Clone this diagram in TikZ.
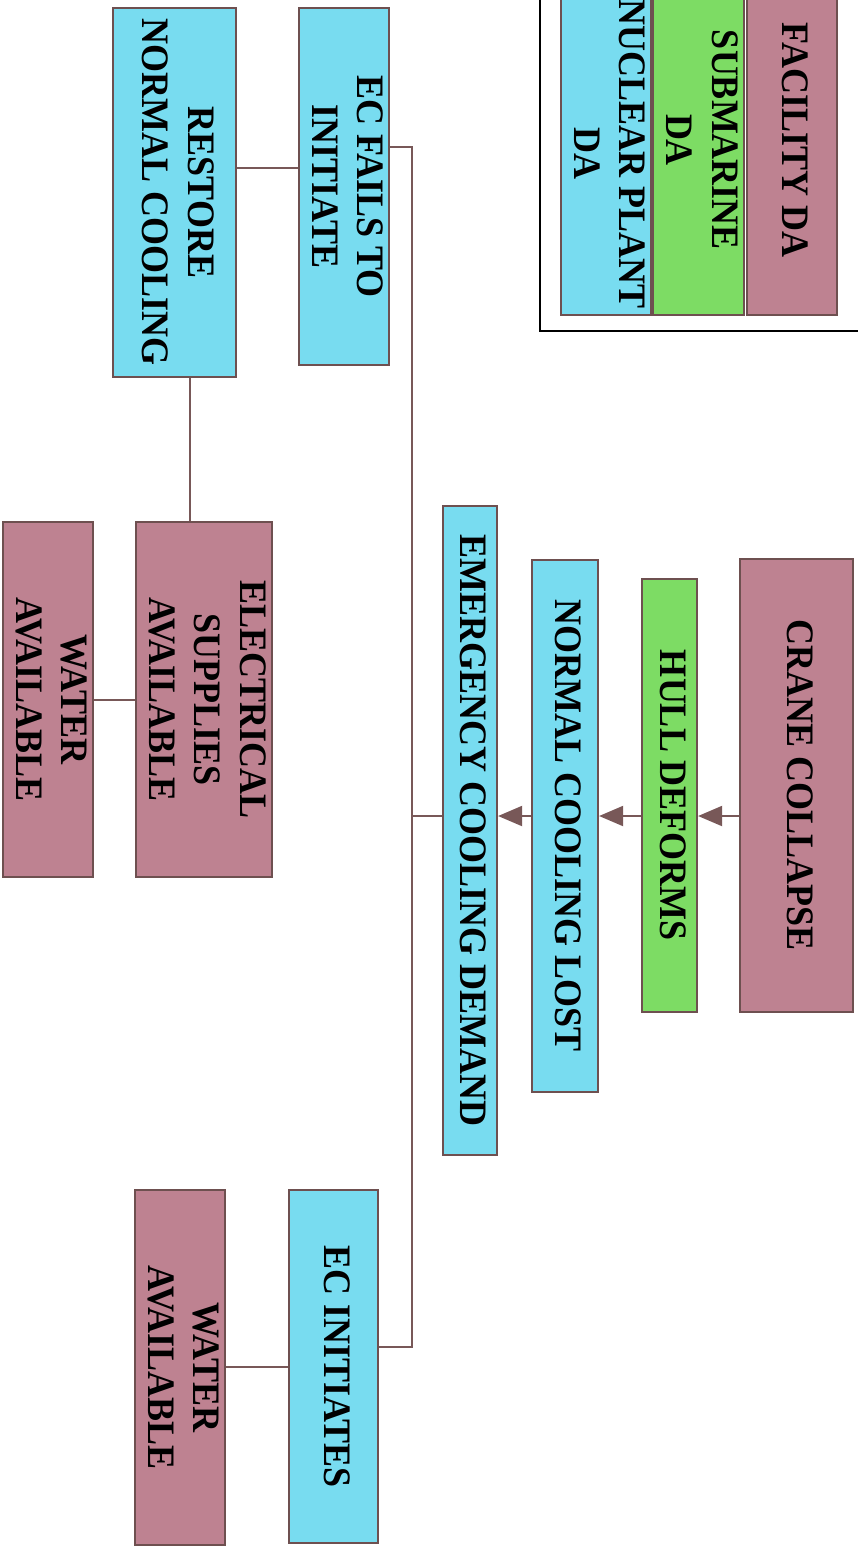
\documentclass[tikz,border=0pt]{standalone}
\usepackage{fontspec}
\usepackage{graphicx}
\setmainfont{Liberation Serif}
\usetikzlibrary{arrows.meta}
\definecolor{mauve}{RGB}{190,130,145}
\definecolor{leaf}{RGB}{125,220,100}
\definecolor{aqua}{RGB}{120,220,240}
\definecolor{edge}{RGB}{110,80,80}
\definecolor{wire}{RGB}{120,88,88}
\newcommand{\vt}[1]{\rotatebox{-90}{\scalebox{1}[1.08]{\begin{tabular}{@{}c@{}}#1\end{tabular}}}}
\tikzset{
  blk/.style={draw=edge, line width=2.2pt, inner sep=0pt, font=\fontsize{36}{42}\selectfont\bfseries},
  fac/.style={blk, fill=mauve},
  sub/.style={blk, fill=leaf},
  npl/.style={blk, fill=aqua},
  wireline/.style={draw=wire, line width=2pt},
  arr/.style={wireline, -{Triangle[length=24pt,width=20pt]}, wire, fill=wire},
}
\begin{document}
\begin{tikzpicture}[x=1pt,y=-1pt]
\useasboundingbox (0,0) rectangle (858,1549);
\fill[white] (0,0) rectangle (858,1549);
% legend
\draw[line width=2.8pt] (540,-20) -- (540,331) -- (880,331);
\node[fac, minimum width=90pt, minimum height=350pt] (lfac) at (792,140) {\vt{FACILITY DA}};
\node[sub, minimum width=89pt, minimum height=350pt] (lsub) at (698.5,140) {\vt{SUBMARINE\\DA}};
\node[npl, minimum width=88pt, minimum height=322pt] (lnpl) at (606,154) {\vt{NUCLEAR PLANT\\DA}};
% main chain
\node[fac, minimum width=113pt, minimum height=453pt] (crane) at (796.5,785.5) {\vt{CRANE COLLAPSE}};
\node[sub, minimum width=55pt, minimum height=433pt] (hull) at (669.5,795.5) {\vt{HULL DEFORMS}};
\node[npl, minimum width=66pt, minimum height=532pt] (ncl) at (565,826) {\vt{NORMAL COOLING LOST}};
\node[npl, minimum width=54pt, minimum height=649pt] (ecd) at (470,830.5) {\vt{EMERGENCY COOLING DEMAND}};
\node[npl, minimum width=88pt, minimum height=357pt] (ecf) at (344,186.5) {\vt{EC FAILS TO\\INITIATE}};
\node[npl, minimum width=123pt, minimum height=369pt] (rnc) at (174.5,192.5) {\vt{RESTORE\\NORMAL COOLING}};
\node[fac, minimum width=116pt, minimum height=355pt] (esa) at (204,699.5) {\vt{ELECTRICAL\\SUPPLIES\\AVAILABLE}};
\node[fac, minimum width=90pt, minimum height=355pt] (wa1) at (48,699.5) {\vt{WATER\\AVAILABLE}};
\node[npl, minimum width=89pt, minimum height=353pt] (eci) at (333.5,1366.5) {\vt{EC INITIATES}};
\node[fac, minimum width=90pt, minimum height=355pt] (wa2) at (180,1367.5) {\vt{WATER\\AVAILABLE}};
% helper coordinates
\coordinate (ay) at (0,816);
\coordinate (trunktop) at (412,147);
\coordinate (trunkbot) at (412,1347);
\coordinate (trunkmid) at (412,816);
% connectors
\draw[arr] (crane.west |- ay) -- (hull.east |- ay);
\draw[arr] (hull.west |- ay) -- (ncl.east |- ay);
\draw[arr] (ncl.west |- ay) -- (ecd.east |- ay);
\draw[wireline] (ecd.west |- ay) -- (trunkmid);
\draw[wireline] (ecf.east |- trunktop) -- (trunktop) -- (trunkbot) -- (eci.east |- trunkbot);
\draw[wireline] (rnc.east |- 0,168) -- (ecf.west |- 0,168);
\draw[wireline] (rnc.south -| 190,0) -- (esa.north -| 190,0);
\draw[wireline] (esa.west |- 0,700) -- (wa1.east |- 0,700);
\draw[wireline] (wa2.east |- 0,1367) -- (eci.west |- 0,1367);
\end{tikzpicture}
\end{document}
